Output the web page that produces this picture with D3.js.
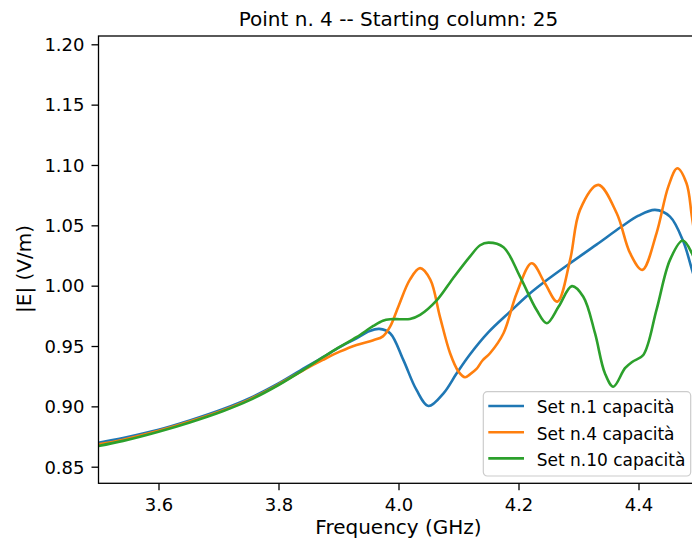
<!DOCTYPE html>
<html>
<head>
<meta charset="utf-8">
<script src="https://cdn.jsdelivr.net/npm/d3@7"></script>
<style>
  html, body { margin: 0; padding: 0; background: #fff; }
  svg { display: block; font-family: "DejaVu Sans", sans-serif; }
</style>
</head>
<body>
<svg id="chart" width="692" height="545"></svg>
<script>
// Field magnitude |E| versus frequency for three capacitor sets
const chartTitle = "Point n. 4 -- Starting column: 25";
const seriesNames = ["Set n.1 capacità", "Set n.4 capacità", "Set n.10 capacità"];
const seriesColors = ["#1f77b4", "#ff7f0e", "#2ca02c"];

const xTicks = [3.6, 3.8, 4.0, 4.2, 4.4];
const yTicks = [0.85, 0.90, 0.95, 1.00, 1.05, 1.10, 1.15, 1.20];

// Set n.1
const freqSet1 = [3.500, 3.541, 3.600, 3.652, 3.708, 3.752, 3.800, 3.847, 3.874, 3.902, 3.930, 3.952, 3.968, 3.986, 4.008, 4.030, 4.050, 4.075, 4.097, 4.119, 4.150, 4.186, 4.216, 4.244, 4.286, 4.330, 4.372, 4.400, 4.4275, 4.4525, 4.4747, 4.4892, 4.500];
const magSet1  = [0.8699, 0.8738, 0.8806, 0.8883, 0.8978, 0.9068, 0.9190, 0.9329, 0.9407, 0.9490, 0.9564, 0.9625, 0.9642, 0.9606, 0.9385, 0.9136, 0.9003, 0.9108, 0.9274, 0.9430, 0.9615, 0.9785, 0.9923, 1.0034, 1.0186, 1.0340, 1.0490, 1.0580, 1.0628, 1.0572, 1.0365, 1.0131, 0.9950];

// Set n.4
const freqSet4 = [3.500, 3.541, 3.600, 3.652, 3.708, 3.752, 3.800, 3.847, 3.874, 3.902, 3.930, 3.958, 3.974, 3.986, 4.000, 4.019, 4.036, 4.053, 4.069, 4.086, 4.100, 4.111, 4.119, 4.130, 4.140, 4.1525, 4.175, 4.197, 4.222, 4.244, 4.2647, 4.286, 4.3025, 4.333, 4.3637, 4.386, 4.4063, 4.430, 4.4497, 4.4647, 4.480, 4.489, 4.500];
const magSet4  = [0.8685, 0.8724, 0.8797, 0.8874, 0.8968, 0.9058, 0.9182, 0.9315, 0.9385, 0.9453, 0.9509, 0.9548, 0.9580, 0.9660, 0.9830, 1.0050, 1.0145, 1.0050, 0.9744, 0.9440, 0.9288, 0.9241, 0.9265, 0.9310, 0.9380, 0.9440, 0.9606, 0.9937, 1.0186, 1.0020, 0.9868, 1.0214, 1.0628, 1.0835, 1.0600, 1.0269, 1.0131, 1.0434, 1.0821, 1.0973, 1.0849, 1.0572, 1.0200];

// Set n.10
const freqSet10 = [3.500, 3.541, 3.600, 3.652, 3.708, 3.752, 3.800, 3.847, 3.874, 3.902, 3.930, 3.958, 3.974, 3.986, 4.003, 4.019, 4.036, 4.064, 4.091, 4.119, 4.136, 4.150, 4.175, 4.2025, 4.230, 4.247, 4.267, 4.289, 4.308, 4.3275, 4.344, 4.358, 4.3775, 4.390, 4.408, 4.430, 4.4525, 4.4737, 4.489, 4.500];
const magSet10  = [0.8672, 0.8714, 0.8790, 0.8867, 0.8962, 0.9052, 0.9177, 0.9320, 0.9407, 0.9492, 0.9573, 0.9666, 0.9710, 0.9722, 0.9722, 0.9724, 0.9758, 0.9880, 1.0062, 1.0241, 1.0335, 1.0357, 1.0319, 1.0075, 0.9800, 0.9689, 0.9827, 0.9996, 0.9908, 0.9606, 0.9274, 0.9163, 0.9316, 0.9370, 0.9426, 0.9800, 1.0214, 1.0374, 1.0269, 1.0100];

const series = [
  { name: seriesNames[0], color: seriesColors[0], freq: freqSet1,  mag: magSet1 },
  { name: seriesNames[1], color: seriesColors[1], freq: freqSet4,  mag: magSet4 },
  { name: seriesNames[2], color: seriesColors[2], freq: freqSet10, mag: magSet10 }
];

const svg = d3.select("#chart");
const plot = { left: 98.5, right: 698.5, top: 36, bottom: 483.3 };

const x = d3.scaleLinear().domain([3.5, 4.5]).range([plot.left, plot.right]);
const y = d3.scaleLinear().domain([0.85, 1.20]).range([466.7, 44.3]);

svg.append("rect").attr("width", 692).attr("height", 545).attr("fill", "#fff");

svg.append("defs").append("clipPath").attr("id", "plot-clip")
  .append("rect")
  .attr("x", plot.left).attr("y", plot.top)
  .attr("width", plot.right - plot.left).attr("height", plot.bottom - plot.top);

// Curves
const line = d3.line()
  .x(d => x(d[0]))
  .y(d => y(d[1]))
  .curve(d3.curveCatmullRom.alpha(0.5));

const curves = svg.append("g").attr("clip-path", "url(#plot-clip)");
series.forEach(s => {
  curves.append("path")
    .datum(d3.zip(s.freq, s.mag))
    .attr("d", line)
    .attr("fill", "none")
    .attr("stroke", s.color)
    .attr("stroke-width", 2.6)
    .attr("stroke-linejoin", "round")
    .attr("stroke-linecap", "square");
});

// Axes
const xAxis = d3.axisBottom(x).tickValues(xTicks).tickFormat(d3.format(".1f"))
  .tickSize(7).tickPadding(7.5);
const yAxis = d3.axisLeft(y).tickValues(yTicks).tickFormat(d3.format(".2f"))
  .tickSize(7).tickPadding(7);

const gx = svg.append("g").attr("transform", `translate(0,${plot.bottom})`).call(xAxis);
const gy = svg.append("g").attr("transform", `translate(${plot.left},0)`).call(yAxis);
[gx, gy].forEach(g => {
  g.select(".domain").remove();
  g.attr("font-family", "DejaVu Sans, sans-serif").attr("font-size", 18);
  g.selectAll(".tick line").attr("stroke", "#000").attr("stroke-width", 1.3);
  g.selectAll(".tick text").attr("fill", "#000");
});
gy.selectAll(".tick text").attr("dy", "0.35em");

// Frame
svg.append("rect")
  .attr("x", plot.left).attr("y", plot.top)
  .attr("width", plot.right - plot.left).attr("height", plot.bottom - plot.top)
  .attr("fill", "none").attr("stroke", "#000").attr("stroke-width", 1.3);

// Titles
svg.append("text")
  .attr("x", (plot.left + plot.right) / 2).attr("y", 26)
  .attr("text-anchor", "middle").attr("font-size", 20).attr("fill", "#000")
  .text(chartTitle);

svg.append("text")
  .attr("x", (plot.left + plot.right) / 2).attr("y", 533.5)
  .attr("text-anchor", "middle").attr("font-size", 20).attr("fill", "#000")
  .text("Frequency (GHz)");

svg.append("text")
  .attr("transform", "translate(31,269) rotate(-90)")
  .attr("text-anchor", "middle").attr("font-size", 20).attr("fill", "#000")
  .text("|E| (V/m)");

// Legend
const legend = svg.append("g").attr("transform", "translate(483.3,391.7)");
legend.append("rect")
  .attr("width", 207.4).attr("height", 84.3)
  .attr("rx", 4).attr("ry", 4)
  .attr("fill", "#fff").attr("fill-opacity", 0.8)
  .attr("stroke", "#cccccc").attr("stroke-width", 1.2);

series.forEach((s, i) => {
  const row = legend.append("g").attr("transform", `translate(0,${14.3 + i * 26.2})`);
  row.append("line")
    .attr("x1", 5).attr("x2", 40.7)
    .attr("stroke", s.color).attr("stroke-width", 2.6);
  row.append("text")
    .attr("x", 53.4).attr("y", 7.3)
    .attr("font-size", 17).attr("fill", "#000")
    .text(s.name);
});
</script>
</body>
</html>
